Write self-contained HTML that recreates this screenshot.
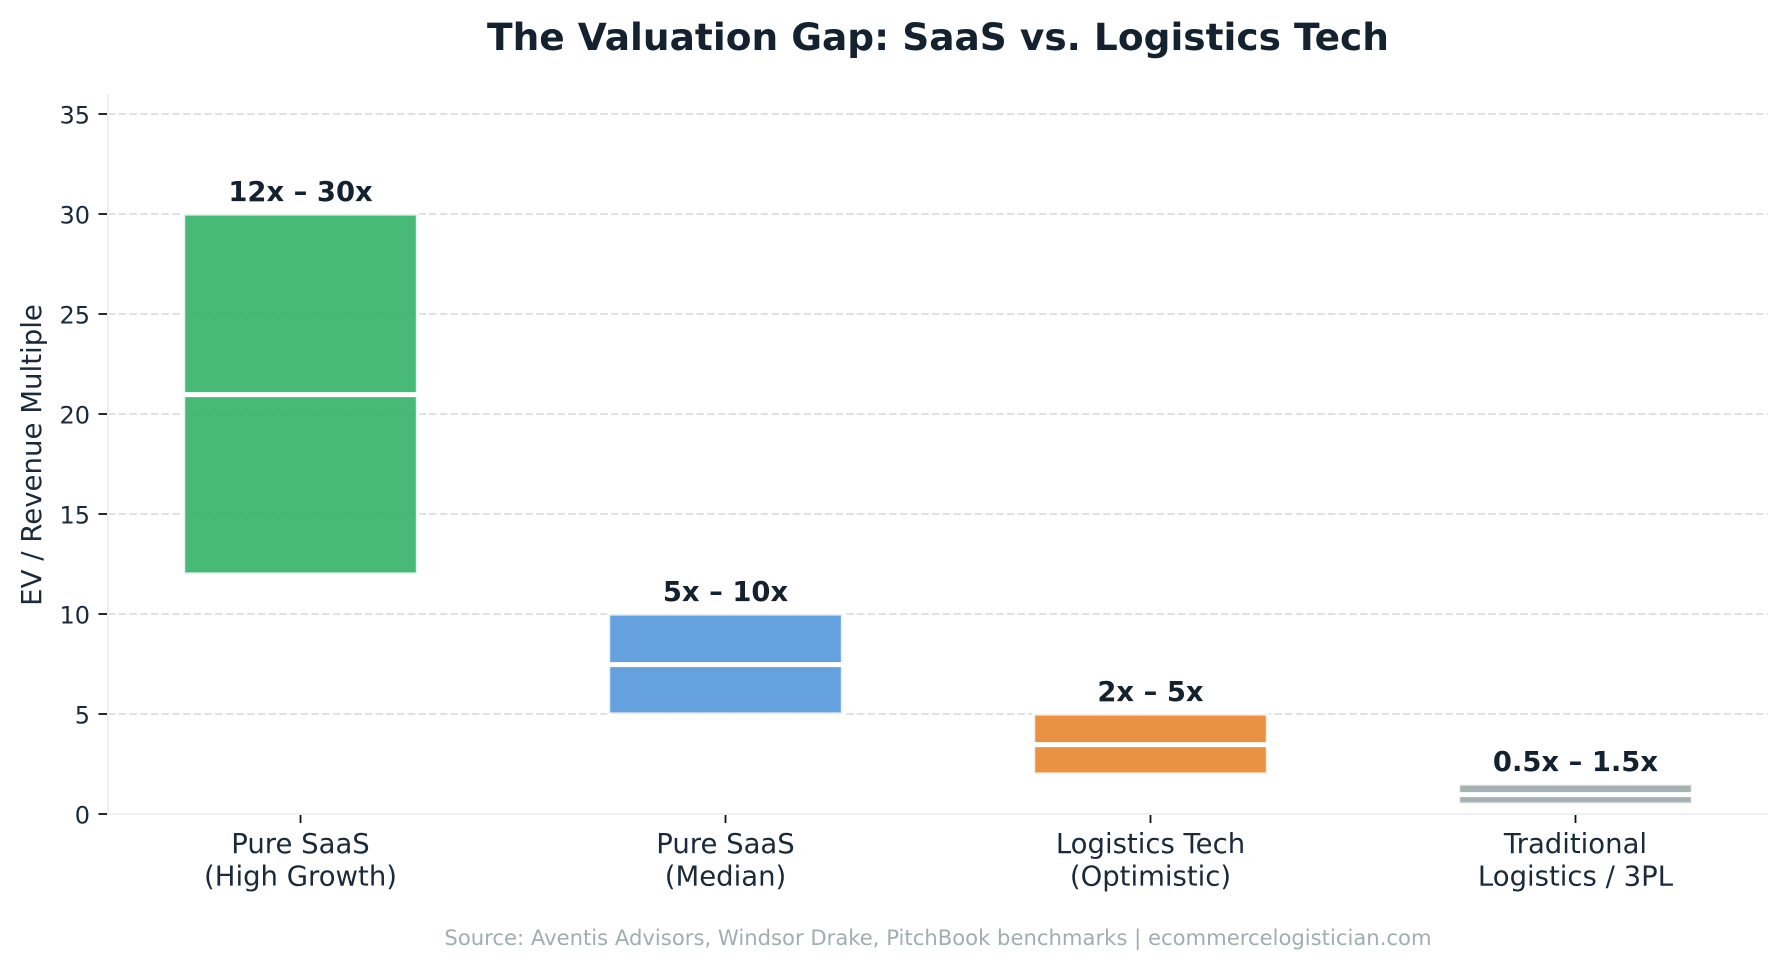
<!DOCTYPE html>
<html lang="en">
<head>
<meta charset="utf-8">
<title>The Valuation Gap: SaaS vs. Logistics Tech</title>
<style>
html,body{margin:0;padding:0;background:#fff;width:1783px;height:963px;overflow:hidden}
svg{display:block;font-family:"DejaVu Sans","Liberation Sans",sans-serif}
</style>
</head>
<body>
<svg id="chart" xmlns="http://www.w3.org/2000/svg" width="1783" height="963" viewBox="0 0 1783 963">
<text x="938" y="50" text-anchor="middle" font-size="37.5" font-weight="700" fill="#14212f">The Valuation Gap: SaaS vs. Logistics Tech</text>
<text transform="translate(41 455) rotate(-90)" text-anchor="middle" font-size="27.6" fill="#1a2a3a">EV / Revenue Multiple</text>
<text x="938" y="945" text-anchor="middle" font-size="21.15" fill="#a0aeaf">Source: Aventis Advisors, Windsor Drake, PitchBook benchmarks | ecommercelogistician.com</text>
<g id="grid"></g>
<g id="bars"></g>
<g id="axes"></g>
</svg>
<script>
const categories = [["Pure SaaS", "(High Growth)"], ["Pure SaaS", "(Median)"], ["Logistics Tech", "(Optimistic)"], ["Traditional", "Logistics / 3PL"]];
const lowValues = [12, 5, 2, 0.5];
const highValues = [30, 10, 5, 1.5];
const medianValues = [21, 7.5, 3.5, 1];
const rangeLabels = ["12x \u2013 30x", "5x \u2013 10x", "2x \u2013 5x", "0.5x \u2013 1.5x"];
const barColors = ["#27ae60", "#4a90d9", "#e67e22", "#95a5a6"];
const yTicks = [0, 5, 10, 15, 20, 25, 30, 35];

const NS = "http://www.w3.org/2000/svg";
const plot = { left: 108, right: 1768, top: 94, bottom: 814 };
const yMax = 36;
const xMin = -0.453, xMax = 3.453;
const barWidthUnits = 0.55;
function xScale(v) { return plot.left + (v - xMin) / (xMax - xMin) * (plot.right - plot.left); }
function yScale(v) { return plot.bottom - v / yMax * (plot.bottom - plot.top); }
function make(tag, attrs, parent) {
  const el = document.createElementNS(NS, tag);
  for (const k in attrs) el.setAttribute(k, attrs[k]);
  parent.appendChild(el);
  return el;
}
const gridG = document.getElementById("grid");
const barsG = document.getElementById("bars");
const axesG = document.getElementById("axes");
const inkDark = "#1a2a3a";

yTicks.forEach(function (t) {
  if (t === 0) return;
  const line = make("line", { x1: plot.left, x2: plot.right, y1: yScale(t), y2: yScale(t), stroke: "#dddddd", "stroke-width": 1.8, "stroke-dasharray": "7.6 3.1" }, gridG);
  
  
});

categories.forEach(function (cat, i) {
  const cx = xScale(i);
  const w = xScale(barWidthUnits) - xScale(0);
  const rect = make("rect", { x: cx - w / 2, y: yScale(highValues[i]), width: w, height: yScale(lowValues[i]) - yScale(highValues[i]), fill: barColors[i], "fill-opacity": 0.85, stroke: "#ffffff", "stroke-opacity": 0.85, "stroke-width": 3.2 }, barsG);
  
  
  const med = make("line", { x1: cx - w / 2, x2: cx + w / 2, y1: yScale(medianValues[i]) + 0.6, y2: yScale(medianValues[i]) + 0.6, stroke: "#ffffff", "stroke-width": 5 }, barsG);
  
  
  const lab = make("text", { x: cx, y: yScale(highValues[i]) - 13, "text-anchor": "middle", "font-size": 27.4, "font-weight": 700, fill: "#14212f" }, barsG);
  lab.textContent = rangeLabels[i];
  
  

  const tick = make("line", { x1: cx, x2: cx, y1: plot.bottom + 1, y2: plot.bottom + 9, stroke: "#111111", "stroke-width": 1.8 }, axesG);
  
  
  cat.forEach(function (ln, j) {
    const tl = make("text", { x: cx, y: 853 + j * 32.5, "text-anchor": "middle", "font-size": 27.5, fill: inkDark }, axesG);
    tl.textContent = ln;
    
    
  });
});

make("line", { x1: plot.left, x2: plot.left, y1: plot.top, y2: plot.bottom + 1, stroke: "#ecf0f1", "stroke-width": 2 }, axesG);
make("line", { x1: plot.left, x2: plot.right, y1: plot.bottom, y2: plot.bottom, stroke: "#ecf0f1", "stroke-width": 2 }, axesG);

yTicks.forEach(function (t) {
  const tick = make("line", { x1: 98.5, x2: 107, y1: yScale(t), y2: yScale(t), stroke: "#111111", "stroke-width": 1.8 }, axesG);
  
  
  const tl = make("text", { x: 90, y: yScale(t) + 9.5, "text-anchor": "end", "font-size": 24, fill: inkDark }, axesG);
  tl.textContent = String(t);
  
  
});
</script>
</body>
</html>
